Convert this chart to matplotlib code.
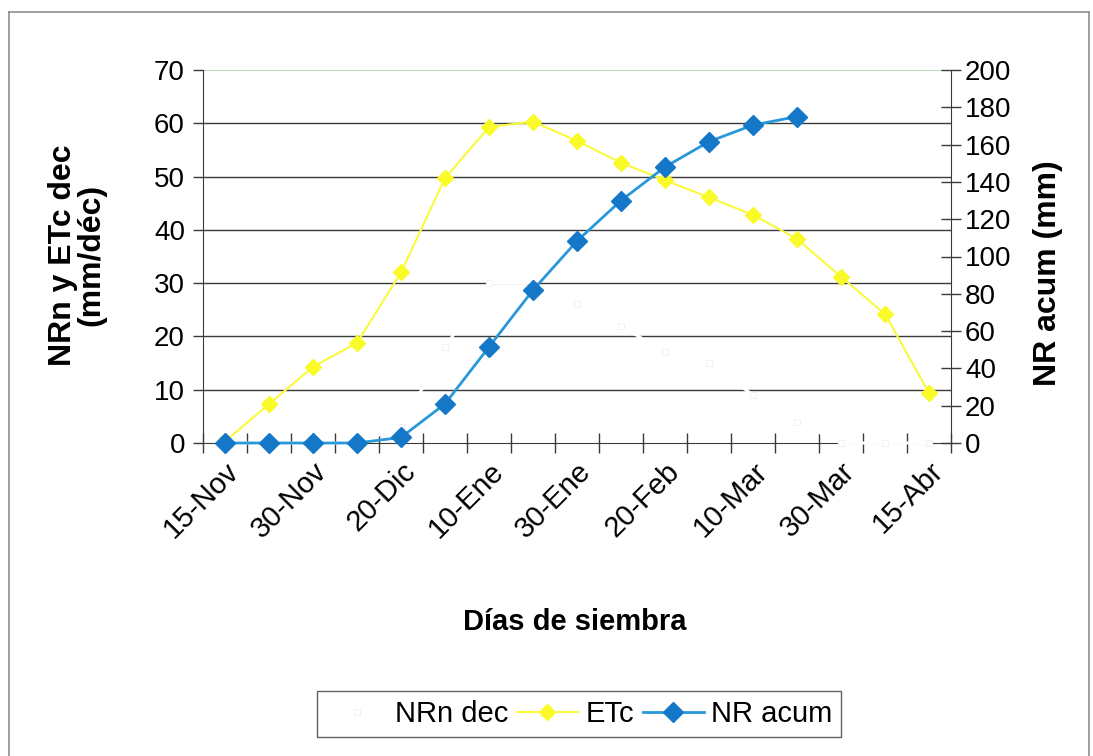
import numpy as np
import matplotlib.pyplot as plt
from matplotlib.lines import Line2D

plt.rcParams['font.family'] = ['Liberation Sans', 'DejaVu Sans']

# sowing dates (every second one is labelled on the axis)
fechas = ['15-Nov', '22-Nov', '30-Nov', '10-Dic', '20-Dic', '31-Dic', '10-Ene', '20-Ene',
          '30-Ene', '10-Feb', '20-Feb', '28-Feb', '10-Mar', '20-Mar', '30-Mar', '5-Abr', '15-Abr']
etiquetas = ['15-Nov', '30-Nov', '20-Dic', '10-Ene', '30-Ene', '20-Feb', '10-Mar', '30-Mar', '15-Abr']

# series (mm)
nrn_dec = [0, 0, 0, 0, 3, 18, 30, 30, 26, 22, 17, 15, 9, 4, 0, 0, 0]
etc = [0.3, 7.3, 14.3, 18.8, 32, 49.7, 59.3, 60.3, 56.7, 52.6, 49.3, 46.1, 42.8, 38.3, 31.2, 24.2, 9.4]
nr_acum = [0, 0, 0, 0, 3, 21, 51.5, 82, 108.3, 130, 148, 161.6, 170.5, 175]

x = np.arange(len(fechas))

fig = plt.figure(figsize=(10.93, 7.56), dpi=100)
ax = fig.add_axes([203 / 1093, 1 - 443 / 756, 748 / 1093, 373 / 756])
ax2 = ax.twinx()

# left axis: grid, NRn dec (white, nearly invisible) and ETc
ax.set_xlim(-0.5, len(fechas) - 0.5)
ax.set_ylim(0, 70)
ax.set_yticks(np.arange(0, 71, 10))
for v in range(10, 70, 10):
    ax.axhline(v, color='#3a3a3a', lw=1.0, zorder=1)
ax.axhline(70, color='#9fd8b0', lw=1.2, zorder=1)

ax.plot(x, nrn_dec, color='white', lw=2.2, marker='s', markersize=4,
        markerfacecolor='white', markeredgecolor='#f8eaf5', markeredgewidth=0.6,
        label='NRn dec', zorder=3, clip_on=False)
ax.plot(x, etc, color='#fafa3c', lw=1.5, marker='D', markersize=8,
        markerfacecolor='#fafa28', markeredgecolor='#fafa28', label='ETc', zorder=4, clip_on=False)

ax.spines['top'].set_visible(False)
ax.spines['right'].set_visible(False)
ax.spines['left'].set_color('#3a3a3a')
ax.spines['bottom'].set_color('#3a3a3a')
ax.spines['bottom'].set_zorder(2)

ax.set_xticks(x[::2], etiquetas, rotation=45, ha='right', rotation_mode='anchor')
ax.set_xticks(np.arange(-0.5, len(fechas)), minor=True)
ax.tick_params(axis='x', which='major', length=0, pad=10, labelsize=21)
ax.tick_params(axis='x', which='minor', direction='inout', length=14, width=1, color='#3a3a3a')
ax.tick_params(axis='y', direction='out', length=7, width=1, color='#3a3a3a', labelsize=20, pad=6)

# right axis: cumulative NR
ax2.set_ylim(0, 200)
ax2.set_yticks(np.arange(0, 201, 20))
ax2.plot(np.arange(len(nr_acum)), nr_acum, color='#2898da', lw=2.0, marker='D', markersize=10,
         markerfacecolor='#1577c8', markeredgecolor='#1577c8', label='NR acum', zorder=5, clip_on=False)
for s in ['top', 'left', 'bottom']:
    ax2.spines[s].set_visible(False)
ax2.spines['right'].set_color('#3a3a3a')
ax2.tick_params(axis='y', direction='inout', length=14, width=1, color='#3a3a3a', labelsize=20, pad=3)

# axis titles
fig.text(0.0705, 0.663, 'NRn y ETc dec\n(mm/déc)', rotation=90, ha='center', va='center',
         fontsize=23, fontweight='bold', linespacing=0.95)
fig.text(0.959, 0.639, 'NR acum (mm)', rotation=90, ha='center', va='center',
         fontsize=23, fontweight='bold')
fig.text(0.526, 0.177, 'Días de siembra', ha='center', va='center',
         fontsize=21, fontweight='bold')

h1, l1 = ax.get_legend_handles_labels()
h2, l2 = ax2.get_legend_handles_labels()
leg = fig.legend(h1 + h2, l1 + l2, loc='center', bbox_to_anchor=(0.530, 0.0556), ncol=3,
                 fontsize=21, frameon=True, fancybox=False, edgecolor='#3a3a3a',
                 handlelength=2.1, columnspacing=0.3, handletextpad=0.25, borderpad=0.3)
leg.get_frame().set_linewidth(1.0)

# outer chart border
for xs, ys in [([9, 9], [0, 744]), ([9, 1089], [744, 744]), ([1089, 1089], [744, 0])]:
    fig.add_artist(Line2D(np.array(xs) / 1093, np.array(ys) / 756, color='#909090', lw=1.2))

fig.savefig('out.png', dpi=100)
